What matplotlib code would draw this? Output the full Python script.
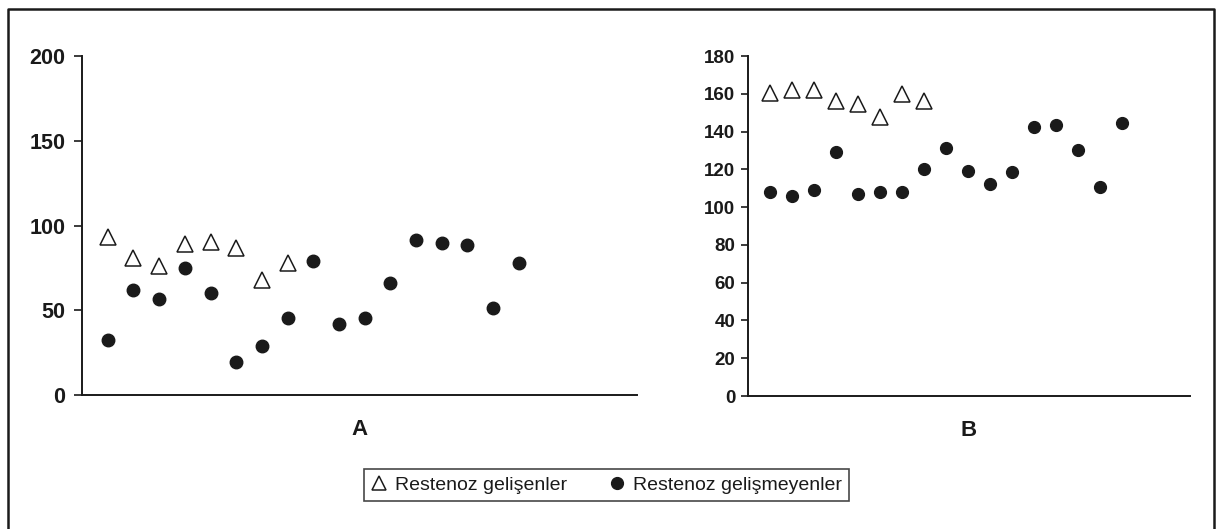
import numpy as np
import matplotlib
matplotlib.use("Agg")
import matplotlib.pyplot as plt
from matplotlib.lines import Line2D

plt.rcParams['font.family'] = ['Liberation Sans', 'DejaVu Sans']

# panel A
a_tri_x = [1, 2, 3, 4, 5, 6, 7, 8]
a_tri_y = [93.4, 80.6, 76.1, 89.1, 90.5, 86.5, 67.8, 77.7]
a_dot_x = list(range(1, 18))
a_dot_y = [32.4, 61.9, 56.6, 74.7, 60.4, 19.7, 28.9, 45.2, 79.1,
           41.9, 45.2, 65.9, 91.4, 89.9, 88.7, 51.1, 77.7]

# panel B
b_tri_x = [1, 2, 3, 4, 5, 6, 7, 8]
b_tri_y = [160.2, 162, 162, 156.2, 154.4, 147.9, 159.7, 156.2]
b_dot_x = list(range(1, 18))
b_dot_y = [108.1, 106, 109, 129.1, 107, 108.1, 108.1, 120.1, 131.1,
           119.2, 112, 118.4, 142.2, 143.4, 130.5, 110.8, 144.7]

a_ticks = [0, 50, 100, 150, 200]
b_ticks = [0, 20, 40, 60, 80, 100, 120, 140, 160, 180]
labels = ['Restenoz gelişenler', 'Restenoz gelişmeyenler']

ink = '#1a1a1a'

fig = plt.figure(figsize=(12.21, 5.29), dpi=100)
axA = fig.add_axes([0.0672, 0.2533, 0.4545, 0.6408])
axB = fig.add_axes([0.6126, 0.2514, 0.362, 0.6427])


def style(ax, ticks, xmax, fs, tl, pad):
    for s in ['top', 'right']:
        ax.spines[s].set_visible(False)
    for s in ['left', 'bottom']:
        ax.spines[s].set_color(ink)
        ax.spines[s].set_linewidth(1.4)
    ax.set_xticks([])
    ax.set_yticks(ticks)
    ax.set_ylim(ticks[0], ticks[-1])
    ax.set_xlim(0, xmax)
    ax.tick_params(axis='y', length=tl, width=1.2, color=ink, pad=pad,
                   labelsize=fs, labelcolor=ink)
    for t in ax.get_yticklabels():
        t.set_fontweight('bold')


axA.plot(a_tri_x, a_tri_y, ls='none', marker='^', ms=11, mfc='white',
         mec=ink, mew=1.1, clip_on=False)
axA.plot(a_dot_x, a_dot_y, ls='none', marker='o', ms=9, mfc=ink,
         mec=ink, clip_on=False)
style(axA, a_ticks, 21.6, 15.5, 6, 6)
axA.set_xlabel('A', fontsize=16, fontweight='bold', color=ink, labelpad=17)

axB.plot(b_tri_x, b_tri_y, ls='none', marker='^', ms=11, mfc='white',
         mec=ink, mew=1.1, clip_on=False)
axB.plot(b_dot_x, b_dot_y, ls='none', marker='o', ms=8.5, mfc=ink,
         mec=ink, clip_on=False)
style(axB, b_ticks, 20.1, 13.5, 5, 4)
axB.set_xlabel('B', fontsize=16, fontweight='bold', color=ink, labelpad=17)

# outer frame (bottom edge runs off the picture)
W, H = 1221, 529
fx = [8 / W, 8 / W, 1214 / W, 1214 / W]
fy = [0, 1 - 9 / H, 1 - 9 / H, 0]
fig.add_artist(Line2D(fx, fy, color=ink, lw=1.8, transform=fig.transFigure))

handles = [
    Line2D([], [], ls='none', marker='^', ms=10, mfc='white', mec=ink, mew=1.1),
    Line2D([], [], ls='none', marker='o', ms=8.5, mfc=ink, mec=ink),
]
leg = fig.legend(handles, labels, loc='center', bbox_to_anchor=(0.4967, 0.0832),
                 ncol=2, fontsize=14, frameon=True, fancybox=False,
                 handlelength=0.8, handletextpad=0.4, columnspacing=2.2,
                 borderpad=0.35, borderaxespad=0)
leg.get_frame().set_edgecolor(ink)
leg.get_frame().set_linewidth(1.2)
for t in leg.get_texts():
    t.set_color(ink)

fig.savefig('out.png', dpi=100)
